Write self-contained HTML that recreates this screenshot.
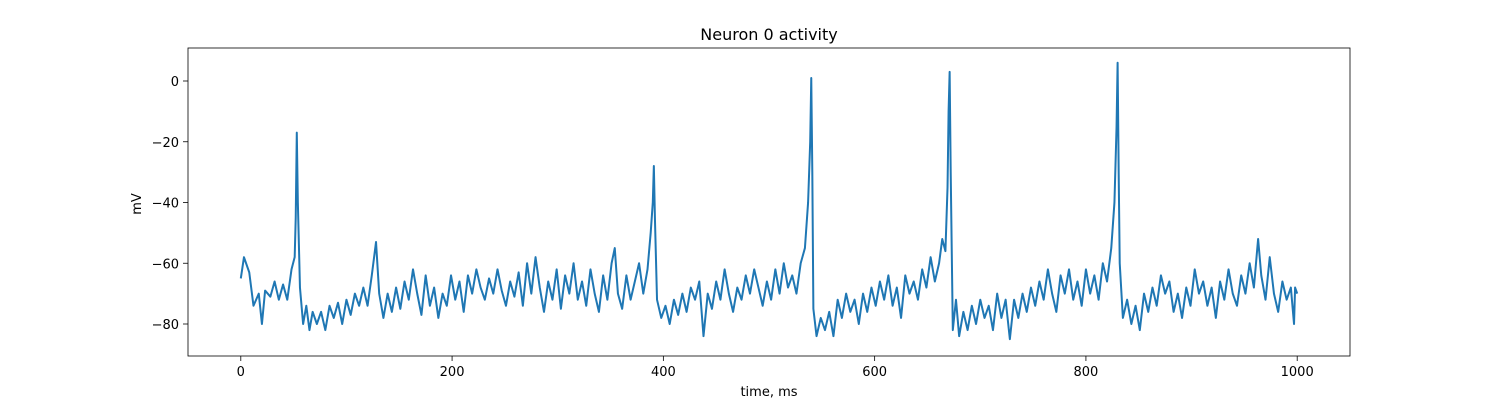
<!DOCTYPE html>
<html><head><meta charset="utf-8"><style>
body{margin:0;background:#fff;font-family:"Liberation Sans","DejaVu Sans",sans-serif;}
svg text{font-family:"DejaVu Sans","Liberation Sans",sans-serif;}
</style></head><body>
<svg id="chart" width="1500" height="400" xmlns="http://www.w3.org/2000/svg">
<rect width="1500" height="400" fill="#fff"/>
<g id="plot"></g>
<rect x="188" y="48" width="1162" height="308" fill="none" stroke="#000" stroke-width="0.8"/>
<text x="769" y="40" font-size="16" text-anchor="middle">Neuron 0 activity</text>
<text x="769" y="396" font-size="13" text-anchor="middle">time, ms</text>
<text x="141" y="204" font-size="13" text-anchor="middle" transform="rotate(-90 141 204)">mV</text>
<g id="xt"></g><g id="yt"></g>
</svg>
<script>
const times=[0,3,8,12,17,20,23,28,32,36,40,44,48,51,52,53,54,56,59,62,65,68,72,76,80,84,88,92,96,100,104,108,112,116,120,124,128,131,135,139,143,147,151,155,159,163,167,171,175,179,183,187,191,195,199,203,207,211,215,219,223,227,231,235,239,243,247,251,255,259,263,267,271,275,279,283,287,291,295,299,303,307,311,315,319,323,327,331,335,339,343,347,351,354,357,361,365,369,373,377,381,385,388,390,391,392,394,398,402,406,410,414,418,422,426,430,434,438,442,446,450,454,458,462,466,470,474,478,482,486,490,494,498,502,506,510,514,518,522,526,530,534,537,539,540,541,542,545,549,553,557,561,565,569,573,577,581,585,589,593,597,601,605,609,613,617,621,625,629,633,637,641,645,649,653,657,661,664,667,669,670,671,672,674,677,680,684,688,692,696,700,704,708,712,716,720,724,728,732,736,740,744,748,752,756,760,764,768,772,776,780,784,788,792,796,800,804,808,812,816,820,824,827,829,830,831,832,835,839,843,847,851,855,859,863,867,871,875,879,883,887,891,895,899,903,907,911,915,919,923,927,931,935,939,943,947,951,955,959,963,966,970,974,978,982,986,990,994,997,998,1000];
const volts=[-65,-58,-63,-74,-70,-80,-69,-71,-66,-72,-67,-72,-62,-58,-45,-17,-40,-68,-80,-74,-82,-76,-80,-76,-82,-74,-78,-73,-80,-72,-77,-70,-74,-68,-74,-64,-53,-70,-78,-70,-76,-68,-75,-66,-72,-62,-70,-77,-64,-74,-68,-78,-70,-74,-64,-72,-66,-76,-64,-70,-62,-68,-72,-65,-70,-62,-69,-74,-66,-71,-63,-74,-60,-70,-58,-68,-76,-66,-72,-62,-75,-64,-70,-60,-72,-66,-74,-62,-70,-76,-64,-72,-60,-55,-70,-75,-64,-72,-66,-60,-70,-62,-50,-40,-28,-45,-72,-78,-74,-80,-72,-77,-70,-76,-68,-72,-66,-84,-70,-75,-66,-72,-62,-70,-76,-68,-72,-64,-70,-62,-68,-74,-66,-72,-62,-70,-60,-68,-64,-70,-60,-55,-40,-20,1,-30,-75,-84,-78,-82,-76,-84,-72,-78,-70,-76,-72,-80,-70,-76,-68,-74,-66,-72,-64,-74,-68,-78,-64,-70,-66,-72,-62,-68,-58,-66,-60,-52,-56,-35,-10,3,-30,-82,-72,-84,-76,-82,-74,-80,-72,-78,-74,-82,-70,-78,-72,-85,-72,-78,-70,-76,-68,-74,-66,-72,-62,-70,-76,-64,-70,-62,-72,-66,-74,-62,-70,-64,-72,-60,-66,-55,-40,-15,6,-30,-60,-78,-72,-80,-74,-82,-70,-76,-68,-74,-64,-70,-66,-76,-70,-78,-68,-74,-62,-70,-66,-74,-68,-78,-66,-72,-62,-70,-74,-64,-70,-60,-68,-52,-64,-72,-58,-70,-76,-66,-72,-68,-80,-68,-70];
const xTicks=[0,200,400,600,800,1000];
const yTicks=[0,-20,-40,-60,-80];
const NS="http://www.w3.org/2000/svg";
function xs(t){return 240.8+t*1.0564;}
function ys(v){return 81-v*3.0375;}
const plot=document.getElementById('plot');
let d='';
for(let i=0;i<times.length;i++){d+=(i?'L':'M')+xs(times[i]).toFixed(2)+' '+ys(volts[i]).toFixed(2);}
const p=document.createElementNS(NS,'path');
p.setAttribute('d',d);p.setAttribute('fill','none');p.setAttribute('stroke','#1f77b4');p.setAttribute('stroke-width','2');p.setAttribute('stroke-linejoin','round');


plot.appendChild(p);
const xt=document.getElementById('xt');
xTicks.forEach(t=>{
 const l=document.createElementNS(NS,'line');
 l.setAttribute('x1',xs(t));l.setAttribute('x2',xs(t));l.setAttribute('y1',356);l.setAttribute('y2',361);l.setAttribute('stroke','#000');l.setAttribute('stroke-width','0.8');
 
 
 xt.appendChild(l);
 const tx=document.createElementNS(NS,'text');
 tx.setAttribute('x',xs(t));tx.setAttribute('y',376);tx.setAttribute('font-size','13');tx.setAttribute('text-anchor','middle');tx.textContent=t;
 
 
 xt.appendChild(tx);
});
const yt=document.getElementById('yt');
yTicks.forEach(v=>{
 const l=document.createElementNS(NS,'line');
 l.setAttribute('x1',183);l.setAttribute('x2',188);l.setAttribute('y1',ys(v));l.setAttribute('y2',ys(v));l.setAttribute('stroke','#000');l.setAttribute('stroke-width','0.8');
 
 
 yt.appendChild(l);
 const tx=document.createElementNS(NS,'text');
 tx.setAttribute('x',179);tx.setAttribute('y',ys(v)+5);tx.setAttribute('font-size','13');tx.setAttribute('text-anchor','end');tx.textContent=(v<0?'\u2212'+(-v):v);
 
 
 yt.appendChild(tx);
});
</script>
</body></html>
